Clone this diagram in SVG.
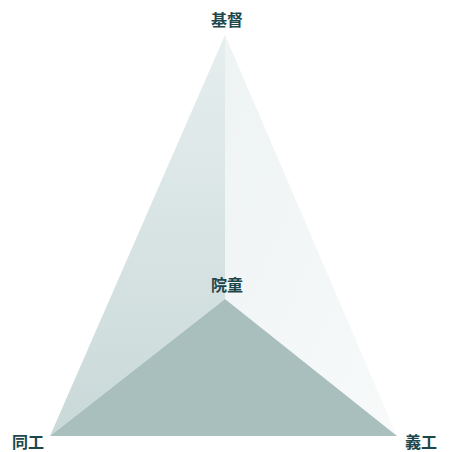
<svg xmlns="http://www.w3.org/2000/svg" width="449" height="452" viewBox="0 0 449 452">
<defs>
<linearGradient id="gl" x1="0" y1="0" x2="0" y2="1">
<stop offset="0" stop-color="#e6eeee"/>
<stop offset="1" stop-color="#c9d9d8"/>
</linearGradient>
<linearGradient id="gr" x1="0" y1="0" x2="1" y2="1">
<stop offset="0" stop-color="#eef3f3"/>
<stop offset="1" stop-color="#f8fafa"/>
</linearGradient>
<style>
.lbl{font-family:"Noto Sans CJK TC","Noto Sans CJK SC",sans-serif;font-size:16px;font-weight:bold;fill:#1d474c;text-anchor:middle}
</style>
</defs>
<rect width="449" height="452" fill="#ffffff"/>
<g id="faces">
<polygon id="face-left" points="225,35 225,299 50,436" fill="url(#gl)"/>
<polygon id="face-right" points="225,35 225,299 397,436" fill="url(#gr)"/>
<polygon id="face-bottom" points="225,299 50,436 397,436" fill="#a9bfbe"/>
</g>
<g id="node-jidu"><text class="lbl" x="227" y="26">基督</text></g>
<g id="node-yuantong"><text class="lbl" x="227" y="291">院童</text></g>
<g id="node-tonggong"><text class="lbl" x="28" y="448">同工</text></g>
<g id="node-yigong"><text class="lbl" x="421" y="448">義工</text></g>
<g id="connectors"></g>
</svg>
